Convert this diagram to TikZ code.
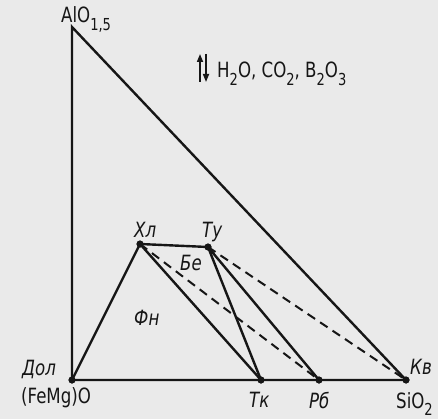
\documentclass[tikz,border=0pt]{standalone}
\usepackage{fontspec}
\setmainfont{DejaVu Sans Condensed}[FakeStretch=0.88]
\usetikzlibrary{arrows.meta}
\definecolor{bg}{RGB}{234,234,234}
\definecolor{ink}{RGB}{22,22,22}
\newcommand\lowsub[1]{\raisebox{-0.36em}{\fontsize{16.5}{16.5}\selectfont #1}}
\begin{document}
\begin{tikzpicture}[x=1pt,y=-1pt,
  edge/.style={draw=ink,line width=2.4pt},
  dashedge/.style={draw=ink,line width=2pt,dash pattern=on 9pt off 6pt},
  pt/.style={circle,fill=ink,inner sep=0pt,minimum size=7pt},
  lab/.style={text=ink,font=\fontsize{21}{21}\selectfont,inner sep=0pt,anchor=base west},
  ilab/.style={lab,font=\fontsize{21}{21}\selectfont\itshape},
  flowarrow/.style={draw=ink,line width=1.6pt,-{Triangle[length=8pt,width=6pt]}}]
\fill[bg] (0,0) rectangle (438,419);
\useasboundingbox (0,0) rectangle (438,419);
% vertices
\coordinate (A) at (72,27);
\node[pt] (D) at (72,380) {};
\node[pt] (S) at (406,380) {};
\node[pt] (Tk) at (261,380) {};
\node[pt] (Rb) at (319,380) {};
\node[pt] (Xl) at (140,244) {};
\node[pt] (Ty) at (208,247) {};
% triangle
\draw[edge,line join=miter] (D.center) -- (A) -- (S.center) -- cycle;
% tie lines
\draw[edge] (D.center) -- (Xl.center) -- (Ty.center);
\draw[edge] (Xl.center) -- (Tk.center);
\draw[edge] (Ty.center) -- (Tk.center);
\draw[edge] (Ty.center) -- (Rb.center);
\draw[dashedge] (Xl.center) -- (Rb.center);
\draw[dashedge] (Ty.center) -- (S.center);
% redraw dots on top
\foreach \p in {D,S,Tk,Rb,Xl,Ty} \fill[ink] (\p) circle (3.5pt);
% labels
\node[lab] (lAl) at (61,23) {AlO\lowsub{1,5}};
\node[lab] (lFe) at (21,403) {(FeMg)O};
\node[ilab] (lDol) at (22,375) {Дол};
\node[ilab] (lXl) at (134,237) {Хл};
\node[ilab] (lTy) at (202,237) {Ту};
\node[ilab] (lBe) at (180,270) {Бе};
\node[ilab] (lFn) at (134,325) {Фн};
\node[ilab] (lTk) at (249,407) {Тк};
\node[ilab] (lRb) at (309,408) {Рб};
\node[lab] (lSi) at (396,408) {SiO\lowsub{2}};
\node[ilab] (lKv) at (410,374) {Кв};
\node[lab] (lgas) at (217,78) {H\lowsub{2}O, CO\lowsub{2}, B\lowsub{2}O\lowsub{3}};
% exchange arrows
\coordinate (u1) at (200,82);
\coordinate (u2) at (200,54);
\coordinate (d1) at (206,54);
\coordinate (d2) at (206,82);
\draw[flowarrow] (u1) -- (u2);
\draw[flowarrow] (d1) -- (d2);
\end{tikzpicture}
\end{document}
